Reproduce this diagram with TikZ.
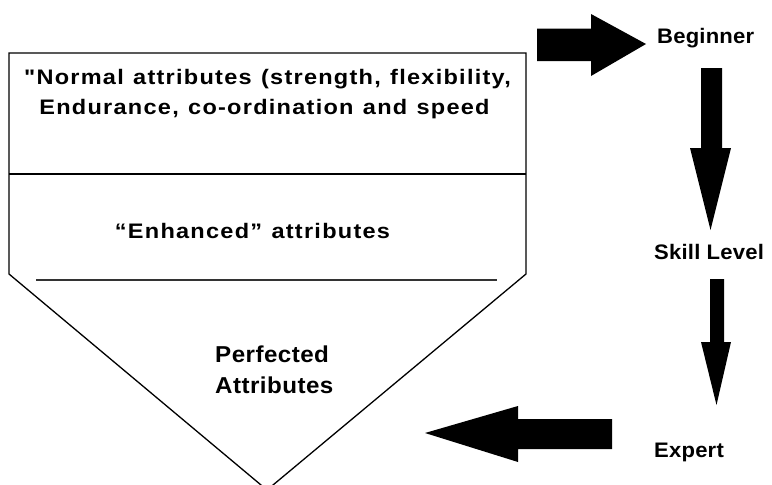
\documentclass[tikz,border=0pt]{standalone}
\usepackage{fontspec}
\setmainfont{Liberation Sans}
% wide, slightly spaced bold faces for the three kinds of labels
\newfontfamily\boxfont[FakeStretch=1.12,LetterSpace=6,WordSpace=1.2]{Liberation Sans}
\newfontfamily\tipfont[FakeStretch=1.05,LetterSpace=2]{Liberation Sans}
\newfontfamily\stagefont[FakeStretch=1.05,LetterSpace=1]{Liberation Sans}
\begin{document}
\begin{tikzpicture}[x=1pt,y=-1pt,
  outline/.style={draw=black,line width=1.3pt,line join=miter},
  boxtext/.style={inner sep=0pt,anchor=base,font=\boxfont\bfseries\fontsize{21}{25}\selectfont},
  tiptext/.style={inner sep=0pt,anchor=base west,font=\tipfont\bfseries\fontsize{23}{27}\selectfont},
  stage/.style={inner sep=0pt,anchor=base west,font=\stagefont\bfseries\fontsize{21}{25}\selectfont},
  blockarrow/.style={fill=black,draw=none}]
\useasboundingbox (0,0) rectangle (772,485);

% funnel: rectangle with a pointed bottom
\coordinate (tl) at (9,53);
\coordinate (tr) at (526,53);
\coordinate (cr) at (526,274);
\coordinate (cl) at (9,274);
\coordinate (apex) at (267,490);
\draw[outline] (tl) -- (tr) -- (cr) -- (apex) -- (cl) -- cycle;
\draw[line width=1.3pt] (9,174) -- (526,174);
\draw[line width=2pt,black!80] (36,280) -- (497,280);

% texts inside the funnel
\node[boxtext] (normal1) at (267.5,84) {"Normal attributes (strength, flexibility,};
\node[boxtext] (normal2) at (264.5,114) {Endurance, co-ordination and speed};
\node[boxtext] (enhanced) at (252.5,238) {“Enhanced” attributes};
\node[tiptext] (perf1) at (215,362) {Perfected};
\node[tiptext] (perf2) at (215,393) {Attributes};

% stages
\node[stage] (beginner) at (657,43) {Beginner};
\node[stage] (skill) at (654,259) {Skill Level};
\node[stage] (expert) at (654,457) {Expert};

% block arrows
\fill[blockarrow] (537,28.5) -- (591,28.5) -- (591,14) -- (646,44) -- (591,76)
  -- (591,61) -- (537,61) -- cycle;
\fill[blockarrow] (701,68) -- (722,68) -- (722,148) -- (731,148) -- (710.5,230)
  -- (690,148) -- (701,148) -- cycle;
\fill[blockarrow] (710,279) -- (724,279) -- (724,342) -- (731,342) -- (716.5,405)
  -- (701,342) -- (710,342) -- cycle;
\fill[blockarrow] (612,419) -- (518,419) -- (518,406) -- (425,433) -- (518,462)
  -- (518,449) -- (612,449) -- cycle;
\end{tikzpicture}
\end{document}
